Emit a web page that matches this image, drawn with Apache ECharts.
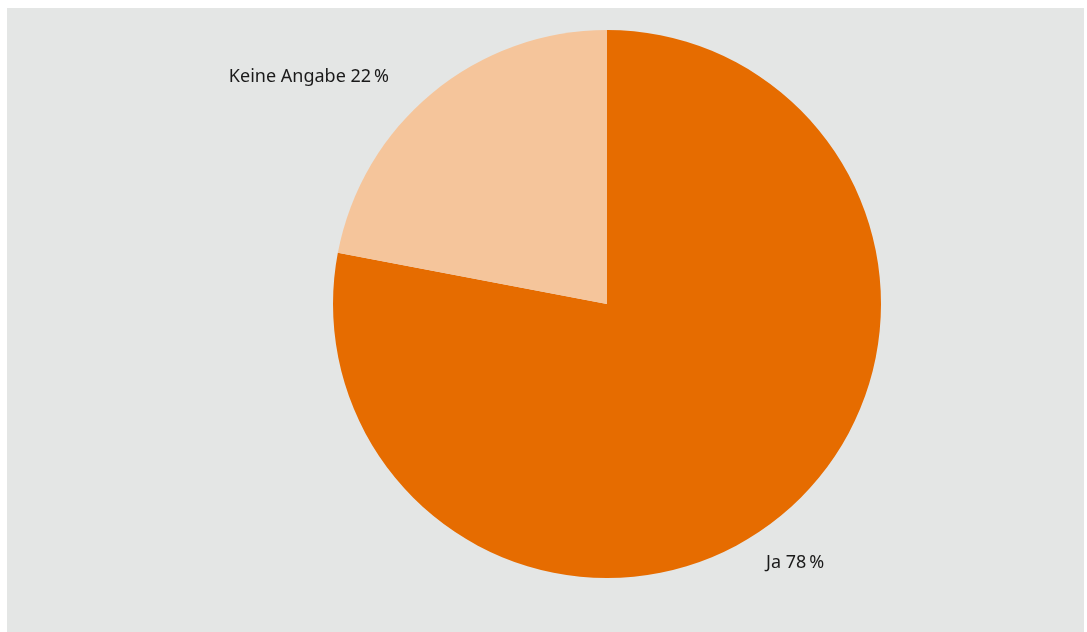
<!DOCTYPE html>
<html>
<head>
<meta charset="utf-8">
<script src="https://cdn.jsdelivr.net/npm/echarts@6/dist/echarts.min.js"></script>
<style>
html,body{margin:0;padding:0;background:#ffffff;width:1087px;height:632px;overflow:hidden;}
#chart{position:absolute;left:7px;top:8px;width:1077px;height:624px;background:#e4e6e5;}
</style>
</head>
<body>
<div id="chart"></div>
<script>
var categories = ['Ja', 'Keine Angabe'];
var values = [78, 22];
var colors = ['#e66c00', '#f5c59b'];

var chart = echarts.init(document.getElementById('chart'));
var labelSpots = [
  {x: 759, y: 555, align: 'left'},
  {x: 382, y: 69, align: 'right'}
];
chart.setOption({
  backgroundColor: 'transparent',
  animation: false,
  series: [{
    type: 'pie',
    center: [600, 296],
    radius: 274,
    startAngle: 90,
    clockwise: true,
    silent: true,
    data: categories.map(function (c, i) {
      return { name: c, value: values[i], itemStyle: { color: colors[i] } };
    }),
    label: {
      show: true,
      position: 'outside',
      formatter: function (p) { return p.name + ' ' + p.value + '\u2009%'; },
      color: '#1a1a1a',
      fontFamily: 'Noto Sans',
      fontSize: 18
    },
    labelLine: { show: false },
    labelLayout: function (p) {
      var s = labelSpots[p.dataIndex];
      return { x: s.x, y: s.y, align: s.align, verticalAlign: 'middle' };
    }
  }]
});
</script>
</body>
</html>
